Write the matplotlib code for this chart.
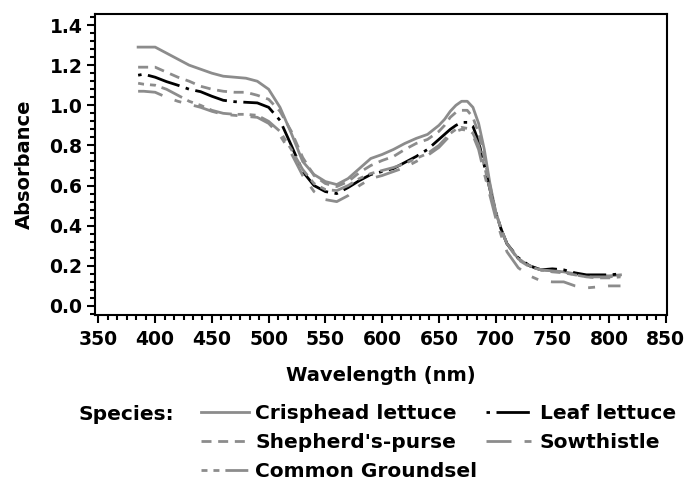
import numpy as np
import matplotlib; matplotlib.use("Agg")
import matplotlib.pyplot as plt
from matplotlib.ticker import MultipleLocator

plt.rcParams["font.family"] = ["DejaVu Sans"]
plt.rcParams["font.weight"] = "bold"
plt.rcParams["lines.scale_dashes"] = False

# wavelength grid (nm)
wl = [385, 390, 400, 410, 420, 430, 440, 450, 460, 470, 480, 490, 500, 510, 520, 530,
      540, 550, 560, 570, 580, 590, 600, 610, 620, 630, 640, 650, 655, 660, 665, 670,
      675, 680, 685, 690, 695, 700, 705, 710, 720, 730, 740, 750, 760, 770, 780, 790,
      800, 810]

crisphead = [1.29, 1.29, 1.29, 1.26, 1.23, 1.20, 1.18, 1.16, 1.145, 1.14, 1.135, 1.12, 1.08, 0.99, 0.86, 0.72,
             0.655, 0.62, 0.605, 0.635, 0.685, 0.735, 0.755, 0.78, 0.81, 0.835, 0.855, 0.90, 0.93, 0.97, 1.00, 1.02,
             1.02, 0.99, 0.91, 0.78, 0.61, 0.47, 0.38, 0.31, 0.235, 0.20, 0.18, 0.175, 0.17, 0.16, 0.15, 0.15,
             0.15, 0.155]
leaf = [1.15, 1.155, 1.14, 1.118, 1.10, 1.08, 1.068, 1.045, 1.025, 1.018, 1.015, 1.012, 0.99, 0.925, 0.80, 0.67,
        0.60, 0.57, 0.56, 0.59, 0.625, 0.655, 0.67, 0.685, 0.715, 0.745, 0.78, 0.83, 0.855, 0.88, 0.90, 0.915,
        0.915, 0.895, 0.82, 0.70, 0.58, 0.47, 0.38, 0.31, 0.24, 0.20, 0.18, 0.185, 0.18, 0.165, 0.155, 0.155,
        0.155, 0.16]
shepherd = [1.19, 1.19, 1.19, 1.165, 1.14, 1.12, 1.095, 1.08, 1.07, 1.065, 1.065, 1.05, 1.03, 0.97, 0.87, 0.74,
            0.65, 0.61, 0.595, 0.62, 0.665, 0.70, 0.725, 0.745, 0.78, 0.81, 0.83, 0.87, 0.90, 0.94, 0.965, 0.975,
            0.975, 0.94, 0.86, 0.74, 0.60, 0.47, 0.38, 0.31, 0.23, 0.195, 0.18, 0.17, 0.165, 0.155, 0.145, 0.14,
            0.14, 0.145]
sowthistle = [1.07, 1.07, 1.065, 1.04, 1.02, 1.005, 0.99, 0.97, 0.955, 0.95, 0.945, 0.94, 0.91, 0.85, 0.76, 0.65,
              0.57, 0.53, 0.52, 0.55, 0.60, 0.635, 0.65, 0.67, 0.69, 0.72, 0.75, 0.79, 0.82, 0.85, 0.87, 0.88,
              0.875, 0.85, 0.78, 0.66, 0.55, 0.44, 0.35, 0.27, 0.19, 0.15, 0.125, 0.12, 0.12, 0.10, 0.09, 0.095,
              0.10, 0.10]
groundsel = [1.11, 1.105, 1.10, 1.08, 1.05, 1.02, 1.0, 0.975, 0.96, 0.955, 0.955, 0.95, 0.92, 0.87, 0.78, 0.68,
             0.61, 0.58, 0.575, 0.60, 0.635, 0.66, 0.675, 0.69, 0.71, 0.735, 0.76, 0.80, 0.83, 0.86, 0.88, 0.89,
             0.885, 0.86, 0.80, 0.70, 0.58, 0.47, 0.38, 0.31, 0.235, 0.20, 0.18, 0.175, 0.17, 0.155, 0.145, 0.145,
             0.145, 0.15]

GRAY = "#8c8c8c"
fig = plt.figure(figsize=(6.88, 4.83), dpi=100)
ax = fig.add_axes([95/688, 1-315/483, 572/688, 301/483])

lw = 2.0
l_cr, = ax.plot(wl, crisphead, color=GRAY, lw=lw, ls="-")
l_lf, = ax.plot(wl, leaf, color="black", lw=lw, ls=(0, (2.5, 4.7, 24, 4.7)))
l_sp, = ax.plot(wl, shepherd, color=GRAY, lw=lw, ls=(0, (7.2, 4.8)))
l_sw, = ax.plot(wl, sowthistle, color=GRAY, lw=lw, ls=(0, (18, 9.4, 5, 9.4)))
l_gr, = ax.plot(wl, groundsel, color=GRAY, lw=lw, ls=(0, (4.3, 4.3, 4.3, 4.3, 16.5, 4.3)))

ax.set_xlim(347, 851)
ax.set_ylim(-0.045, 1.455)
ax.xaxis.set_major_locator(MultipleLocator(50))
ax.xaxis.set_minor_locator(MultipleLocator(50/6))
ax.yaxis.set_major_locator(MultipleLocator(0.2))
ax.yaxis.set_minor_locator(MultipleLocator(0.04))
ax.yaxis.set_major_formatter(plt.FormatStrFormatter("%.1f"))
ax.tick_params(which="major", length=6, width=1.5, labelsize=13.5, pad=3)
ax.tick_params(axis="x", which="major", pad=5)
ax.tick_params(which="minor", length=3.5, width=1.5)
for s in ax.spines.values():
    s.set_linewidth(1.5)
ax.set_xlabel("Wavelength (nm)", fontsize=14, fontweight="bold", labelpad=12)
ax.set_ylabel("Absorbance", fontsize=14, fontweight="bold", labelpad=11)

handles = [l_cr, l_sp, l_gr, l_lf, l_sw]
labels = ["Crisphead lettuce", "Shepherd's-purse", "Common Groundsel", "Leaf lettuce", "Sowthistle"]
fig.legend(handles, labels, loc="upper left", bbox_to_anchor=(201/688, 1-404/483), ncol=2,
           frameon=False, borderaxespad=0, borderpad=0, handlelength=2.4, handletextpad=0.3,
           columnspacing=0.4, labelspacing=0.5, prop={"size": 14.5, "weight": "bold"})
fig.text(79/688, 1-415/483, "Species:", fontsize=14.5, fontweight="bold", va="center", ha="left")

fig.savefig("out.png", dpi=100)
